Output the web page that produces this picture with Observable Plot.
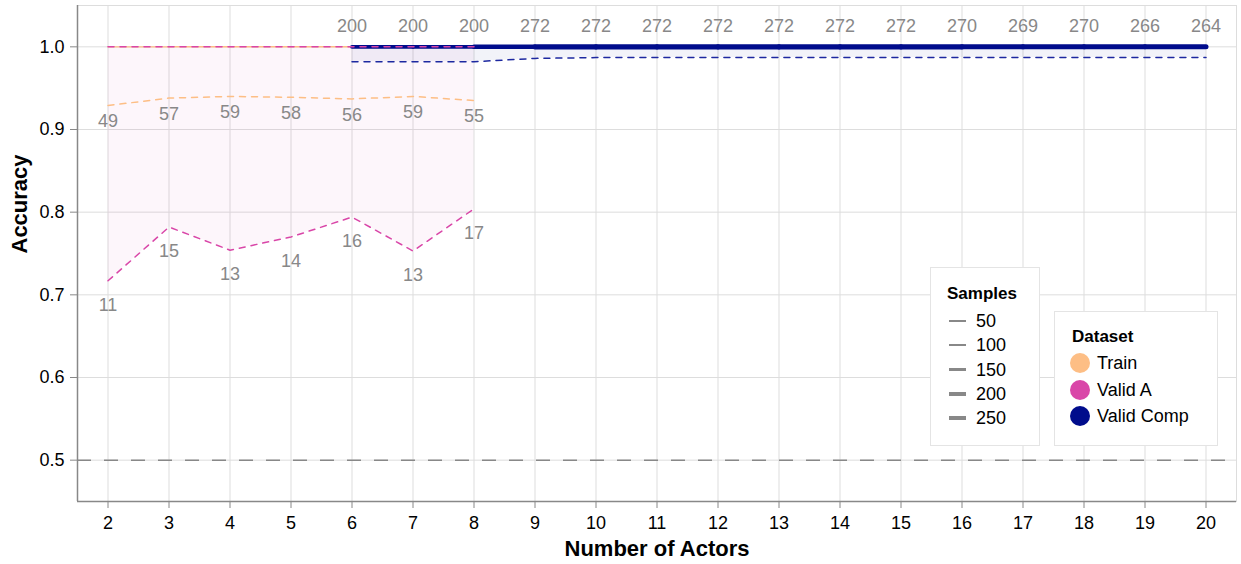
<!DOCTYPE html>
<html>
<head>
<meta charset="utf-8">
<script src="https://cdn.jsdelivr.net/npm/d3@7"></script>
<script src="https://cdn.jsdelivr.net/npm/@observablehq/plot@0.6"></script>
<style>
  body { margin: 0; background: #fff; font-family: "Liberation Sans", Arial, Helvetica, sans-serif; }
  #wrap { position: relative; width: 1241px; height: 564px; }
  #wrap svg { display: block; }
  .box { position: absolute; background: #fff; border: 1px solid #e4e4e4; box-sizing: border-box; }
  .lg { position: absolute; white-space: nowrap; line-height: 1; }
  .lgtitle { font-weight: bold; font-size: 17px; color: #000; }
  .lgitem { font-size: 18px; color: #000; }
</style>
</head>
<body>
<div id="wrap"></div>
<script>
// ---------- data ----------
const actors = [2,3,4,5,6,7,8,9,10,11,12,13,14,15,16,17,18,19,20];
const yTicks = [0.5,0.6,0.7,0.8,0.9,1.0];

const trainX = [2,3,4,5,6,7,8];
const trainLow = [0.929,0.938,0.940,0.939,0.937,0.940,0.935];
const trainHigh = [1,1,1,1,1,1,1];
const trainSamples = [49,57,59,58,56,59,55];

const validAX = [2,3,4,5,6,7,8];
const validALow = [0.717,0.782,0.754,0.770,0.794,0.753,0.804];
const validAHigh = [1,1,1,1,1,1,1];
const validASamples = [11,15,13,14,16,13,17];

const compX = [6,7,8,9,10,11,12,13,14,15,16,17,18,19,20];
const compLow = [0.982,0.982,0.982,0.986,0.987,0.987,0.987,0.987,0.987,0.987,0.987,0.987,0.987,0.987,0.987];
const compHigh = [1,1,1,1,1,1,1,1,1,1,1,1,1,1,1];
const compSamples = [200,200,200,272,272,272,272,272,272,272,270,269,270,266,264];

const datasets = ["Train","Valid A","Valid Comp"];
const colors = ["#fdbe85","#d946a8","#000c8c"];
const sampleLegend = [50,100,150,200,250];
const chance = 0.5;

// ---------- helpers ----------
const widthOf = n => 0.5 + 0.017 * n;
function rows(xs, lo, hi, ns, ds) {
  return xs.map((x, i) => ({x, low: lo[i], high: hi[i], n: ns[i], ds}));
}
function segs(r) {
  const out = [];
  for (let i = 0; i + 1 < r.length; i++) {
    out.push({x1: r[i].x, x2: r[i+1].x, y1: r[i].high, y2: r[i+1].high, n: (r[i].n + r[i+1].n) / 2});
  }
  return out;
}
const train = rows(trainX, trainLow, trainHigh, trainSamples, "Train");
const validA = rows(validAX, validALow, validAHigh, validASamples, "Valid A");
const comp = rows(compX, compLow, compHigh, compSamples, "Valid Comp");
const color = d => colors[datasets.indexOf(d)];
const dash = "6,6";
const font = "'Liberation Sans', Arial, Helvetica, sans-serif";

const chart = Plot.plot({
  width: 1241,
  height: 564,
  marginLeft: 77,
  marginRight: 5,
  marginTop: 5,
  marginBottom: 63,
  style: {fontFamily: font, fontSize: "18px", background: "#fff"},
  x: {domain: [1.5, 20.5], ticks: actors, tickFormat: d3.format("d")},
  y: {domain: [0.45, 1.05], ticks: yTicks, tickFormat: d3.format(".1f")},
  marks: [
    Plot.frame({stroke: "#dddddd"}),
    Plot.gridX(actors, {stroke: "#dddddd", strokeOpacity: 1}),
    Plot.gridY(yTicks, {stroke: "#dddddd", strokeOpacity: 1}),
    Plot.ruleY([chance], {stroke: "#888", strokeWidth: 1.5, strokeDasharray: "14,13"}),
    Plot.areaY(validA, {x: "x", y1: "low", y2: "high", fill: color("Valid A"), fillOpacity: 0.05}),
    Plot.areaY(comp, {x: "x", y1: "low", y2: "high", fill: color("Valid Comp"), fillOpacity: 0.05}),
    Plot.link(segs(train), {x1: "x1", x2: "x2", y1: "y1", y2: "y2", stroke: color("Train"), strokeWidth: d => widthOf(d.n), strokeLinecap: "round"}),
    Plot.link(segs(comp), {x1: "x1", x2: "x2", y1: "y1", y2: "y2", stroke: color("Valid Comp"), strokeWidth: d => widthOf(d.n), strokeLinecap: "round"}),
    Plot.line(train, {x: "x", y: "low", stroke: color("Train"), strokeWidth: 1.5, strokeDasharray: dash}),
    Plot.line(comp, {x: "x", y: "low", stroke: "#1d28a0", strokeWidth: 1.5, strokeDasharray: dash}),
    Plot.line(validA, {x: "x", y: "low", stroke: color("Valid A"), strokeWidth: 1.5, strokeDasharray: dash}),
    Plot.line(validA, {x: "x", y: "high", stroke: color("Valid A"), strokeWidth: 1.5, strokeDasharray: dash}),
    Plot.ruleX([1.5], {stroke: "#888", strokeWidth: 1.5}),
    Plot.ruleY([0.45], {stroke: "#888", strokeWidth: 1.5}),
    Plot.axisX({ticks: actors, tickFormat: d3.format("d"), tickSize: 7, tickPadding: 8, stroke: "#888", fill: "#000", label: null}),
    Plot.axisY({ticks: yTicks, tickFormat: d3.format(".1f"), tickSize: 7, tickPadding: 6, stroke: "#888", fill: "#000", label: null}),
    Plot.text(train, {x: "x", y: "low", text: d => String(d.n), dy: 16, fill: "#888", fontSize: 18}),
    Plot.text(validA, {x: "x", y: "low", text: d => String(d.n), dy: 24, fill: "#888", fontSize: 18}),
    Plot.text(comp, {x: "x", y: "high", text: d => String(d.n), dy: -21, fill: "#888", fontSize: 18}),
    Plot.text(["Accuracy"], {frameAnchor: "left", rotate: -90, dx: -58, lineAnchor: "middle", fontSize: 22, fontWeight: "bold", fill: "#000"}),
    Plot.text(["Number of Actors"], {frameAnchor: "bottom", dy: 47, lineAnchor: "middle", fontSize: 22, fontWeight: "bold", fill: "#000"})
  ]
});
const wrap = document.getElementById("wrap");
wrap.appendChild(chart);

// ---------- legends (HTML overlay) ----------
function el(cls, css, html) {
  const d = document.createElement("div");
  d.className = cls;
  Object.assign(d.style, css);
  if (html != null) d.textContent = html;
  wrap.appendChild(d);
  return d;
}
// Samples legend
el("box", {left: "930px", top: "267px", width: "110px", height: "179px"});
el("lg lgtitle", {left: "947px", top: "285px"}, "Samples");
sampleLegend.forEach((s, i) => {
  const cy = 321 + i * 24.3;
  const w = widthOf(s) * 0.9;
  el("lg", {left: "949px", top: (cy - w / 2) + "px", width: "17px", height: w + "px", background: "#888"});
  el("lg lgitem", {left: "976px", top: (cy - 9) + "px"}, String(s));
});
// Dataset legend
el("box", {left: "1054px", top: "311px", width: "164px", height: "135px"});
el("lg lgtitle", {left: "1072px", top: "328px"}, "Dataset");
datasets.forEach((ds, i) => {
  const cy = 363 + i * 26.5;
  el("lg", {left: "1070px", top: (cy - 10) + "px", width: "20px", height: "20px", borderRadius: "50%", background: colors[i]});
  el("lg lgitem", {left: "1097px", top: (cy - 9) + "px"}, ds);
});
</script>
</body>
</html>
